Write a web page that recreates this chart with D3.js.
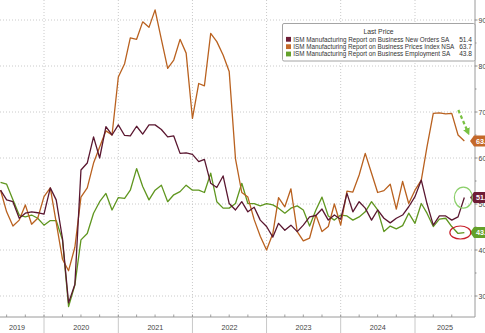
<!DOCTYPE html>
<html>
<head>
<meta charset="utf-8">
<script src="https://cdn.jsdelivr.net/npm/d3@7"></script>
<style>
  html, body { margin: 0; padding: 0; background: #fff; }
  svg { display: block; font-family: "Liberation Sans Narrow", "Liberation Sans", Arial, sans-serif; }
</style>
</head>
<body>
<svg id="chart" width="485" height="333"></svg>
<script>
// Monthly readings, May 2019 – Aug 2025
const startYear = 2019, startMonth = 4; // May 2019 (0-based month)

const newOrders = [
  53.0, 50.9, 50.5, 46.9, 48.0, 48.3, 48.1, 47.8,
  53.5, 50.9, 42.5, 28.5, 32.5, 57.4, 58.9, 64.6, 60.0, 66.8, 65.0, 67.2,
  64.9, 64.8, 66.9, 65.2, 67.2, 67.2, 66.2, 64.6, 64.8, 61.0, 61.1, 60.8,
  59.2, 59.7, 54.5, 53.6, 56.1, 50.1, 48.7, 50.5, 48.3, 49.3, 46.5, 45.1,
  42.8, 45.8, 44.3, 45.4, 44.0, 45.4, 47.2, 47.5, 48.9, 46.5, 47.6, 46.7,
  52.3, 48.3, 50.5, 49.1, 46.5, 48.7, 46.9, 45.9, 46.9, 47.6, 49.4, 51.6,
  55.2, 50.1, 45.4, 47.4, 47.4, 46.5, 47.2, 51.4
];

const prices = [
  53.0, 48.3, 45.2, 46.5, 49.8, 45.6, 46.9, 51.6,
  53.5, 46.0, 38.0, 35.5, 40.6, 51.5, 53.5, 58.9, 62.4, 65.9, 65.0, 77.6,
  80.5, 86.1, 85.8, 89.6, 88.4, 92.2, 85.8, 79.5, 81.3, 85.8, 82.8, 68.6,
  76.2, 75.7, 87.1, 85.3, 82.4, 78.8, 59.8, 52.5, 51.5, 46.6, 43.0, 40.0,
  43.6, 51.4, 49.4, 53.3, 44.0, 42.0, 42.6, 47.6, 44.0, 45.1, 50.0, 45.4,
  52.8, 52.6, 56.3, 61.0, 56.7, 52.5, 52.9, 54.3, 48.9, 54.9, 50.1, 53.0,
  55.2, 62.4, 69.7, 69.8, 69.6, 69.7, 65.0, 63.7
];

const employment = [
  54.7, 54.3, 50.9, 47.6, 47.2, 47.6, 46.9, 45.4,
  46.4, 46.4, 42.2, 27.7, 32.4, 42.2, 43.6, 48.0, 50.5, 52.3, 48.7, 51.4,
  51.2, 53.0, 57.7, 53.8, 50.9, 53.0, 54.1, 50.5, 52.0, 52.7, 54.1, 53.0,
  53.0, 52.5, 56.7, 50.5, 49.1, 49.1, 50.1, 54.5, 50.1, 50.1, 49.6, 50.1,
  49.8, 49.1, 48.0, 49.1, 49.6, 48.7, 45.2, 48.7, 51.5, 47.4, 46.5, 47.6,
  47.4, 46.5, 47.2, 48.3, 50.5, 48.7, 44.0, 45.2, 44.6, 45.3, 48.0, 45.8,
  50.1, 48.0, 45.1, 46.7, 46.9, 45.1, 43.6, 43.8
];

const seriesNames = [
  "ISM Manufacturing Report on Business New Orders SA",
  "ISM Manufacturing Report on Business Prices Index NSA",
  "ISM Manufacturing Report on Business Employment SA"
];
const lastLabels = ["51.4", "63.7", "43.8"];
const yearLabels = ["2019", "2020", "2021", "2022", "2023", "2024", "2025"];
const yTicks = [30, 40, 50, 60, 70, 80, 90];

const lineColors  = ["#5a1730", "#b9611f", "#5f961f"];
const chipColors  = ["#6e1d36", "#c4692a", "#63a12a"];

const svg = d3.select("#chart");
const plotRight = 475, plotBottom = 317;

// monthly readings are placed at the end of each month
const dateOf = i => new Date(startYear, startMonth + i + 1, 1);

const x = d3.scaleTime()
  .domain([new Date(2020, 0, 1), new Date(2025, 0, 1)])
  .range([44, 415]);
const y = d3.scaleLinear().domain([30, 90]).range([296, 20]);

// gridlines
const grid = svg.append("g");
grid.selectAll("line.h").data(yTicks).join("line")
  .attr("x1", 0).attr("x2", plotRight)
  .attr("y1", d => y(d)).attr("y2", d => y(d))
  .attr("stroke", "#c4c4c4").attr("stroke-width", 0.9)
  .attr("stroke-dasharray", "1,2");

const yearStarts = d3.range(2020, 2026).map(yr => new Date(yr, 0, 1));
grid.selectAll("line.v").data(yearStarts).join("line")
  .attr("x1", d => x(d)).attr("x2", d => x(d))
  .attr("y1", 0).attr("y2", plotBottom)
  .attr("stroke", "#c4c4c4").attr("stroke-width", 0.9)
  .attr("stroke-dasharray", "1,2");

// bottom axis frame, quarter ticks and year separators
svg.append("line").attr("x1", 0).attr("x2", plotRight)
  .attr("y1", plotBottom).attr("y2", plotBottom)
  .attr("stroke", "#9a9a9a").attr("stroke-width", 1);

const quarters = d3.timeMonth.every(3).range(new Date(2019, 6, 1), new Date(2025, 9, 1));
svg.append("g").selectAll("line").data(quarters).join("line")
  .attr("x1", d => x(d)).attr("x2", d => x(d))
  .attr("y1", plotBottom - 2.5).attr("y2", plotBottom)
  .attr("stroke", "#8a8a8a").attr("stroke-width", 0.8);

svg.append("g").selectAll("line").data(yearStarts).join("line")
  .attr("x1", d => x(d)).attr("x2", d => x(d))
  .attr("y1", plotBottom).attr("y2", 333)
  .attr("stroke", "#c8c8c8").attr("stroke-width", 1);

const yearCenters = [17].concat(
  yearLabels.slice(1).map(yl => {
    const a = x(new Date(+yl, 0, 1));
    const b = Math.min(plotRight, x(new Date(+yl + 1, 0, 1)));
    return (a + b) / 2;
  })
);
svg.append("g").selectAll("text").data(yearLabels).join("text")
  .attr("x", (d, i) => yearCenters[i]).attr("y", 330)
  .attr("text-anchor", "middle")
  .attr("font-size", 7.2).attr("fill", "#444")
  .text(d => d);

// right axis
svg.append("line").attr("x1", plotRight).attr("x2", plotRight)
  .attr("y1", 0).attr("y2", plotBottom)
  .attr("stroke", "#9a9a9a").attr("stroke-width", 1);
svg.append("g").selectAll("line").data(d3.range(30, 95, 5)).join("line")
  .attr("x1", plotRight).attr("x2", d => plotRight + (d % 10 === 0 ? 2.5 : 1.5))
  .attr("y1", d => y(d)).attr("y2", d => y(d))
  .attr("stroke", "#777").attr("stroke-width", 0.8);
svg.append("g").selectAll("text").data(yTicks).join("text")
  .attr("x", plotRight + 3.5).attr("y", d => y(d) + 2.5)
  .attr("font-size", 7).attr("fill", "#444")
  .text(d => d);

// series lines
const allSeries = [newOrders, prices, employment];
const line = d3.line()
  .x((d, i) => x(dateOf(i)))
  .y(d => y(d));

[2, 1, 0].forEach(k => {
  svg.append("path")
    .datum(allSeries[k])
    .attr("d", line)
    .attr("fill", "none")
    .attr("stroke", lineColors[k])
    .attr("stroke-width", 1.3)
    .attr("stroke-linejoin", "round");
});

// last-value tags on the right edge
allSeries.forEach((s, k) => {
  const cy = y(s[s.length - 1]);
  const g = svg.append("g");
  g.append("path")
    .attr("d", `M${plotRight - 5},${cy} L${plotRight - 1},${cy - 5.5} L490,${cy - 5.5} L490,${cy + 5.5} L${plotRight - 1},${cy + 5.5} Z`)
    .attr("fill", chipColors[k]);
  g.append("text")
    .attr("x", plotRight + 1).attr("y", cy + 2.6)
    .attr("font-size", 7.2).attr("font-weight", "bold").attr("fill", "#fff")
    .text(lastLabels[k]);
});

// annotations: dashed arrow and highlight ellipses
svg.append("defs").append("marker")
  .attr("id", "arrowHead").attr("viewBox", "0 0 10 10")
  .attr("refX", 5).attr("refY", 5)
  .attr("markerWidth", 3.2).attr("markerHeight", 3.2)
  .attr("orient", "auto")
  .append("path").attr("d", "M0,0 L10,5 L0,10 Z").attr("fill", "#79c142");

const lastX = x(dateOf(prices.length - 1));
svg.append("line")
  .attr("x1", lastX - 6).attr("y1", 110)
  .attr("x2", lastX + 3.5).attr("y2", 132)
  .attr("stroke", "#79c142").attr("stroke-width", 2.2)
  .attr("stroke-dasharray", "3.5,2.5")
  .attr("marker-end", "url(#arrowHead)");

svg.append("ellipse")
  .attr("cx", lastX - 1).attr("cy", y(newOrders[newOrders.length - 1]))
  .attr("rx", 9).attr("ry", 10.5)
  .attr("fill", "none").attr("stroke", "#8bcf6a").attr("stroke-width", 1.2);

svg.append("ellipse")
  .attr("cx", lastX - 4).attr("cy", y(employment[employment.length - 1]))
  .attr("rx", 10.5).attr("ry", 6.5)
  .attr("fill", "none").attr("stroke", "#c8202a").attr("stroke-width", 1.2);

// legend
const lg = svg.append("g");
lg.append("rect")
  .attr("x", 282.5).attr("y", 23.5).attr("width", 192.5).attr("height", 37.5)
  .attr("rx", 1.5)
  .attr("fill", "#fff").attr("stroke", "#9a9a9a").attr("stroke-width", 0.9);
lg.append("text")
  .attr("x", 378.5).attr("y", 34).attr("text-anchor", "middle")
  .attr("font-size", 6.8).attr("fill", "#333")
  .text("Last Price");
const nameWidths = [156, 161, 157];
seriesNames.forEach((name, k) => {
  const cy = 39.3 + k * 7.35;
  lg.append("rect")
    .attr("x", 286).attr("y", cy - 2.4).attr("width", 5).attr("height", 4.8)
    .attr("fill", chipColors[k]);
  lg.append("text")
    .attr("x", 293.3).attr("y", cy + 2.3)
    .attr("font-size", 6.6).attr("fill", "#333")
    .attr("textLength", nameWidths[k]).attr("lengthAdjust", "spacingAndGlyphs")
    .text(name);
  lg.append("text")
    .attr("x", 472).attr("y", cy + 2.3).attr("text-anchor", "end")
    .attr("font-size", 6.6).attr("fill", "#333")
    .text(lastLabels[k]);
});
</script>
</body>
</html>
